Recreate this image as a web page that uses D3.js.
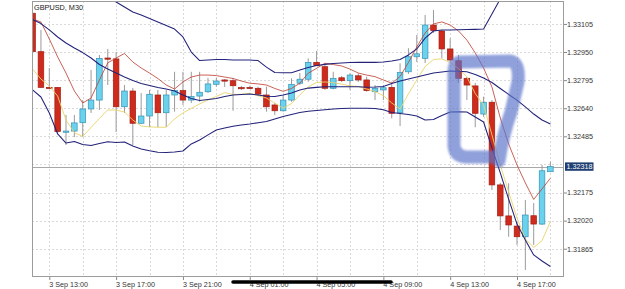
<!DOCTYPE html>
<html><head><meta charset="utf-8">
<script src="https://cdn.jsdelivr.net/npm/d3@7"></script>
<style>
html,body{margin:0;padding:0;background:#fff;}
svg text{font-family:"Liberation Sans",Arial,sans-serif;}
</style></head>
<body><svg id="c" width="625" height="289"></svg>
<script>
const title = "GBPUSD, M30";
const open  = [1.33164,1.32952,1.32755,1.32755,1.32512,1.32514,1.32560,1.32636,1.32685,1.32917,1.32912,1.32648,1.32735,1.32557,1.32597,1.32713,1.32615,1.32713,1.32737,1.32685,1.32707,1.32731,1.32772,1.32796,1.32792,1.32754,1.32755,1.32750,1.32713,1.32658,1.32626,1.32685,1.32778,1.32800,1.32893,1.32869,1.32750,1.32808,1.32792,1.32819,1.32796,1.32731,1.32741,1.32755,1.32615,1.32841,1.32924,1.32915,1.33099,1.33066,1.32967,1.32902,1.32805,1.32763,1.32608,1.32673,1.32217,1.32046,1.31990,1.31931,1.32047,1.32001,1.32290];
const high  = [1.33171,1.33072,1.32862,1.32757,1.32603,1.32603,1.32685,1.32851,1.32934,1.32967,1.32950,1.32768,1.32752,1.32724,1.32741,1.32741,1.32741,1.32841,1.32841,1.32841,1.32841,1.32807,1.32807,1.32801,1.32807,1.32763,1.32763,1.32759,1.32759,1.32669,1.32713,1.32805,1.32834,1.32915,1.32956,1.32878,1.32841,1.32818,1.32833,1.32833,1.32814,1.32768,1.32768,1.32786,1.32888,1.32971,1.33044,1.33154,1.33182,1.33072,1.33026,1.32934,1.32812,1.32779,1.32704,1.32685,1.32228,1.32226,1.32014,1.32134,1.32117,1.32327,1.32345];
const low   = [1.32950,1.32752,1.32752,1.32503,1.32437,1.32481,1.32481,1.32614,1.32630,1.32768,1.32509,1.32614,1.32437,1.32553,1.32536,1.32536,1.32536,1.32621,1.32658,1.32669,1.32676,1.32724,1.32759,1.32757,1.32626,1.32741,1.32746,1.32707,1.32621,1.32603,1.32621,1.32676,1.32768,1.32786,1.32873,1.32741,1.32744,1.32785,1.32741,1.32785,1.32731,1.32685,1.32685,1.32584,1.32542,1.32829,1.32895,1.32889,1.33055,1.32915,1.32897,1.32779,1.32685,1.32535,1.32592,1.32189,1.31968,1.31931,1.31886,1.31748,1.31886,1.31996,1.32288];
const close = [1.32952,1.32755,1.32754,1.32511,1.32514,1.32559,1.32636,1.32685,1.32915,1.32912,1.32648,1.32735,1.32557,1.32597,1.32717,1.32615,1.32713,1.32737,1.32685,1.32704,1.32728,1.32774,1.32790,1.32794,1.32764,1.32753,1.32754,1.32718,1.32648,1.32626,1.32685,1.32772,1.32800,1.32893,1.32875,1.32750,1.32805,1.32792,1.32823,1.32796,1.32737,1.32750,1.32753,1.32612,1.32838,1.32924,1.32940,1.33099,1.33068,1.32967,1.32906,1.32805,1.32768,1.32612,1.32673,1.32217,1.32046,1.31996,1.31931,1.32051,1.32001,1.32295,1.32318];
const bandUpper = [null,null,null,null,null,null,null,null,null,1.33254,1.33226,1.33198,1.33171,1.33154,1.33135,1.33116,1.33096,1.33077,1.33033,1.32950,1.32903,1.32906,1.32909,1.32909,1.32906,1.32906,1.32906,1.32903,1.32867,1.32837,1.32836,1.32836,1.32851,1.32865,1.32876,1.32882,1.32887,1.32890,1.32892,1.32893,1.32893,1.32893,1.32895,1.32900,1.32909,1.32934,1.32967,1.33027,1.33066,1.33072,1.33072,1.33073,1.33074,1.33075,1.33077,1.33160,1.33243,1.33320,null,null,null,null,null];
const bandMiddle = [1.33129,1.33107,1.33072,1.33033,1.33000,1.32972,1.32947,1.32917,1.32881,1.32856,1.32834,1.32812,1.32793,1.32776,1.32765,1.32754,1.32746,1.32735,1.32713,1.32694,1.32683,1.32688,1.32694,1.32705,1.32713,1.32716,1.32719,1.32713,1.32706,1.32705,1.32713,1.32724,1.32741,1.32751,1.32755,1.32759,1.32759,1.32759,1.32759,1.32759,1.32756,1.32757,1.32760,1.32776,1.32790,1.32801,1.32812,1.32823,1.32834,1.32840,1.32845,1.32844,1.32841,1.32826,1.32807,1.32782,1.32749,1.32716,1.32685,1.32647,1.32608,1.32575,1.32553];
const bandLower = [1.32741,1.32702,1.32614,1.32498,1.32448,1.32457,1.32440,1.32434,1.32445,1.32455,1.32451,1.32454,1.32432,1.32415,1.32405,1.32397,1.32396,1.32399,1.32404,1.32443,1.32465,1.32493,1.32520,1.32531,1.32541,1.32548,1.32553,1.32560,1.32567,1.32581,1.32594,1.32605,1.32616,1.32623,1.32628,1.32632,1.32636,1.32639,1.32640,1.32640,1.32640,1.32639,1.32631,1.32616,1.32611,1.32605,1.32597,1.32575,1.32578,1.32600,1.32619,1.32621,1.32619,1.32592,1.32564,1.32421,1.32283,1.32139,1.32001,1.31913,1.31831,1.31797,1.31767];
const maRed = [1.33132,1.33116,1.33022,1.32923,1.32834,1.32735,1.32669,1.32696,1.32796,1.32890,1.32917,1.32942,1.32895,1.32862,1.32834,1.32804,1.32768,1.32746,1.32785,1.32812,1.32823,1.32823,1.32820,1.32812,1.32804,1.32790,1.32778,1.32774,1.32768,1.32749,1.32733,1.32749,1.32778,1.32833,1.32860,1.32888,1.32881,1.32873,1.32856,1.32834,1.32823,1.32814,1.32796,1.32778,1.32815,1.32892,1.32978,1.33055,1.33105,1.33116,1.33099,1.33066,1.33016,1.32945,1.32862,1.32757,1.32586,1.32443,1.32327,1.32228,1.32137,1.32195,1.32254];
const maYellow = [1.32856,1.32801,1.32763,1.32707,1.32575,1.32506,1.32484,1.32534,1.32584,1.32630,1.32630,1.32619,1.32575,1.32542,1.32537,1.32535,1.32535,1.32581,1.32614,1.32639,1.32664,1.32685,1.32705,1.32726,1.32716,1.32717,1.32723,1.32709,1.32696,1.32668,1.32640,1.32666,1.32713,1.32758,1.32782,1.32785,1.32781,1.32773,1.32763,1.32760,1.32746,1.32732,1.32709,1.32669,1.32636,1.32719,1.32796,1.32870,1.32909,1.32912,1.32892,1.32859,1.32812,1.32721,1.32658,1.32493,1.32327,1.32178,1.32035,1.31919,1.31872,1.31910,1.32015];
const priceTicks = [1.33105,1.32950,1.32795,1.32640,1.32485,1.32330,1.32175,1.32020,1.31865];
const hiddenTick = 1.32330;
const timeTickIdx = [2,10,18,26,34,42,50,58];
const timeTickLabels = ["3 Sep 13:00","3 Sep 17:00","3 Sep 21:00","4 Sep 01:00","4 Sep 05:00","4 Sep 09:00","4 Sep 13:00","4 Sep 17:00"];
const gridIdx = [2,6,10,14,18,22,26,30,34,38,42,46,50,54,58,62];
const lastPrice = 1.32318;

const svg = d3.select("#c");
const L = 32, R = 564, T = 1, B = 277;
const x = d3.scaleLinear().domain([0, 62]).range([32.6, 550.4]);
const y = d3.scaleLinear().domain([1.31709, 1.33237]).range([B, 0]);

const defs = svg.append("defs");
defs.append("clipPath").attr("id","clip")
  .append("rect").attr("x",L).attr("y",T).attr("width",R-L).attr("height",B-T);
defs.append("filter").attr("id","soft").attr("x","-20%").attr("y","-20%").attr("width","140%").attr("height","140%")
  .append("feGaussianBlur").attr("stdDeviation",1.3);

// grid
const grid = svg.append("g").attr("clip-path","url(#clip)");
grid.selectAll("line.v").data(gridIdx).join("line")
  .attr("x1",d=>Math.round(x(d))+0.5).attr("x2",d=>Math.round(x(d))+0.5)
  .attr("y1",T).attr("y2",B)
  .attr("stroke","#d9d9d9").attr("stroke-width",1).attr("stroke-dasharray","2,2");
grid.selectAll("line.h").data(priceTicks).join("line")
  .attr("x1",L).attr("x2",R)
  .attr("y1",d=>Math.round(y(d))+0.5).attr("y2",d=>Math.round(y(d))+0.5)
  .attr("stroke","#d9d9d9").attr("stroke-width",1).attr("stroke-dasharray","2,2");

// current price line
grid.append("line").attr("x1",L).attr("x2",R)
  .attr("y1",Math.round(y(lastPrice))+0.5).attr("y2",Math.round(y(lastPrice))+0.5)
  .attr("stroke","#a8a8a8").attr("stroke-width",1);

// candles
const data = open.map((o,i)=>({i,o,h:high[i],l:low[i],c:close[i]}));
const cg = svg.append("g").attr("clip-path","url(#clip)");
cg.selectAll("line.w").data(data).join("line")
  .attr("x1",d=>x(d.i)).attr("x2",d=>x(d.i))
  .attr("y1",d=>y(d.h)).attr("y2",d=>y(d.l))
  .attr("stroke","#9a9a9a").attr("stroke-width",1);
const bw = 5.6;
cg.selectAll("rect.b").data(data).join("rect")
  .attr("x",d=>x(d.i)-bw/2).attr("width",bw)
  .attr("y",d=>y(Math.max(d.o,d.c)))
  .attr("height",d=>Math.max(1.2, Math.abs(y(d.o)-y(d.c))))
  .attr("fill",d=>d.c>=d.o?"#6ad2ec":"#cf2b1c")
  .attr("stroke",d=>d.c>=d.o?"#3592b6":"#a41d12")
  .attr("stroke-width",0.7);

// indicator lines
const lg = svg.append("g").attr("clip-path","url(#clip)");
function drawLine(arr,color,w){
  const line = d3.line().defined(d=>d!=null).x((d,i)=>x(i)).y(d=>y(d));
  lg.append("path").datum(arr).attr("d",line).attr("fill","none")
    .attr("stroke",color).attr("stroke-width",w).attr("stroke-linejoin","round");
}
drawLine(maYellow,"#e9d46a",0.9);
drawLine(maRed,"#c0463a",0.85);
drawLine(bandUpper,"#22227a",1.05);
drawLine(bandMiddle,"#22227a",1.05);
drawLine(bandLower,"#22227a",1.05);

// frame
svg.append("rect").attr("x",L+0.5).attr("y",T+0.5).attr("width",R-L-1).attr("height",B-T-1)
  .attr("fill","none").attr("stroke","#9c9c9c").attr("stroke-width",1);

// title
svg.append("text").attr("x",34).attr("y",9.5).attr("font-size",7.3).attr("fill","#222").text(title);

// y axis
const ya = d3.axisRight(y).tickValues(priceTicks.filter(v=>v!==hiddenTick)).tickSize(3).tickFormat(d3.format(".5f"));
const yg = svg.append("g").attr("transform",`translate(${R},0)`).call(ya);
yg.select(".domain").remove();
yg.selectAll("line").attr("stroke","#888");
yg.selectAll("text").attr("x",3).attr("font-size",7.2).attr("fill","#333").attr("font-family","Liberation Sans, Arial, sans-serif");

// x axis
const xa = d3.axisBottom(x).tickValues(timeTickIdx).tickSize(3).tickFormat((d,i)=>timeTickLabels[i]);
const xg = svg.append("g").attr("transform",`translate(0,${B})`).call(xa);
xg.select(".domain").remove();
xg.selectAll("line").attr("stroke","#888");
xg.selectAll("text").attr("text-anchor","start").attr("dx",-0.5).attr("y",5).attr("dy","0.71em")
  .attr("font-size",7.2).attr("fill","#333").attr("font-family","Liberation Sans, Arial, sans-serif");

// current price label
const ly = y(lastPrice);
svg.append("rect").attr("x",565).attr("y",ly-4.2).attr("width",28.5).attr("height",8.4).attr("fill","#1f3f73");
svg.append("text").attr("x",566.5).attr("y",ly+2.6).attr("font-size",7.2).attr("fill","#fff").text(d3.format(".5f")(lastPrice));

// hand-drawn annotations
svg.append("path")
  .attr("d","M499,161 Q503,134 511,112 L518,82 Q520,62 510,61 L460,62 Q454,63 454,72 L454,146 Q455,156 466,157 L492,157")
  .attr("fill","none").attr("stroke","rgb(92,116,202)").attr("stroke-opacity",0.68)
  .attr("stroke-width",13).attr("stroke-linecap","round").attr("stroke-linejoin","round")
  .attr("filter","url(#soft)");
svg.append("path").attr("d","M233,282 L391,282")
  .attr("stroke","#000").attr("stroke-width",3.5).attr("stroke-linecap","round");
</script></body></html>
